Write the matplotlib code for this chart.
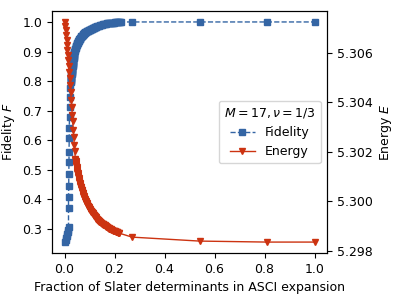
import matplotlib
matplotlib.use("Agg")
import matplotlib.pyplot as plt

# fraction of determinants / fidelity
fid_frac = [0.002, 0.004, 0.006, 0.008, 0.010, 0.012, 0.014, 0.016,
            0.016, 0.016, 0.017, 0.017, 0.018, 0.018, 0.019, 0.019, 0.020,
            0.021, 0.022, 0.023,
            0.024, 0.0245, 0.025, 0.0255, 0.026, 0.0265, 0.027, 0.0275,
            0.028, 0.0285, 0.029, 0.0295, 0.030, 0.0305, 0.031, 0.0315,
            0.032, 0.0325, 0.033, 0.0335, 0.034, 0.0345, 0.035, 0.0355,
            0.036, 0.0365, 0.037, 0.0375, 0.038, 0.0385, 0.039, 0.0395,
            0.040, 0.041, 0.042, 0.043, 0.044, 0.045, 0.046, 0.047, 0.048,
            0.049, 0.050, 0.051, 0.052, 0.053, 0.054, 0.055, 0.056, 0.057,
            0.058, 0.059, 0.060, 0.0615, 0.063, 0.0645, 0.066, 0.0675, 0.069,
            0.0705, 0.072, 0.0735, 0.075, 0.0765, 0.078, 0.0795, 0.081,
            0.0825, 0.084, 0.086, 0.088, 0.090, 0.092, 0.094, 0.096, 0.098,
            0.100, 0.102, 0.104, 0.106, 0.108, 0.110, 0.112, 0.114, 0.116,
            0.118, 0.120, 0.122, 0.124,
            0.1275, 0.131, 0.135, 0.139, 0.143, 0.147, 0.151, 0.155, 0.159,
            0.163, 0.167, 0.171, 0.175, 0.179, 0.183, 0.187, 0.191, 0.195,
            0.199, 0.203, 0.207, 0.211, 0.215, 0.219, 0.223, 0.227,
            0.27, 0.54, 0.81, 1.0]
fidelity = [0.256, 0.263, 0.270, 0.276, 0.283, 0.290, 0.296, 0.306,
            0.370, 0.407, 0.444, 0.485, 0.525, 0.562, 0.609, 0.643, 0.680,
            0.714, 0.747, 0.778,
            0.798, 0.801, 0.805, 0.808, 0.811, 0.814, 0.818, 0.821,
            0.825, 0.828, 0.831, 0.834, 0.838, 0.841, 0.845, 0.848,
            0.852, 0.855, 0.858, 0.861, 0.865, 0.868, 0.872, 0.875,
            0.879, 0.882, 0.885, 0.888, 0.892, 0.894, 0.897, 0.900,
            0.902, 0.905, 0.907, 0.910, 0.912, 0.915, 0.918, 0.920, 0.923,
            0.924, 0.926, 0.928, 0.929, 0.931, 0.933, 0.934, 0.936, 0.938,
            0.940, 0.941, 0.943, 0.944, 0.946, 0.948, 0.949, 0.951, 0.953,
            0.954, 0.956, 0.957, 0.959, 0.960, 0.961, 0.962, 0.964,
            0.965, 0.966, 0.967, 0.968, 0.969, 0.970, 0.971, 0.972, 0.9725,
            0.973, 0.974, 0.975, 0.9755, 0.976, 0.977, 0.978, 0.979, 0.980,
            0.981, 0.982, 0.9825, 0.983,
            0.9845, 0.986, 0.987, 0.988, 0.989, 0.990, 0.991, 0.992, 0.9925,
            0.993, 0.994, 0.995, 0.9955, 0.996, 0.9965, 0.997, 0.9975, 0.998,
            0.998, 0.9985, 0.999, 0.999, 0.9992, 0.9995, 0.9998, 1.0,
            1.0, 1.0, 1.0, 1.0]

# fraction of determinants / energy
en_frac = [0.000, 0.002, 0.004, 0.006, 0.008, 0.010, 0.011, 0.013, 0.014,
           0.016, 0.018, 0.020, 0.023, 0.025, 0.027, 0.029, 0.031, 0.033,
           0.035, 0.037, 0.039, 0.041,
           0.043, 0.0435, 0.044, 0.0445, 0.045, 0.0458, 0.0465, 0.0472,
           0.048, 0.0485, 0.049, 0.0495, 0.050, 0.0508, 0.0515, 0.0522,
           0.053, 0.0538, 0.0545, 0.0552, 0.056, 0.0568, 0.0575, 0.0582,
           0.059, 0.0598, 0.0605, 0.0612, 0.062, 0.0628, 0.0635, 0.0642,
           0.065, 0.066, 0.067, 0.068, 0.069, 0.070, 0.071, 0.072, 0.073,
           0.0738, 0.0745, 0.0752, 0.076, 0.077, 0.078, 0.079, 0.080,
           0.0815, 0.083, 0.0845, 0.086, 0.087, 0.088, 0.089, 0.090,
           0.0915, 0.093, 0.0945, 0.096, 0.097, 0.098, 0.099, 0.100,
           0.1015, 0.103, 0.1045, 0.106, 0.1075, 0.109, 0.1105, 0.112,
           0.1135, 0.115, 0.1165, 0.118, 0.1195, 0.121, 0.1225, 0.124,
           0.1252, 0.1265, 0.1278, 0.129, 0.1305, 0.132, 0.1335, 0.135,
           0.1365, 0.138, 0.1395, 0.141, 0.1425, 0.144, 0.1455, 0.147,
           0.1488, 0.1505, 0.1522, 0.154, 0.1558, 0.1575, 0.1592, 0.161,
           0.163, 0.165, 0.167, 0.169, 0.1705, 0.172, 0.1735, 0.175,
           0.1765, 0.178, 0.1795, 0.181, 0.184, 0.187, 0.190, 0.193,
           0.196, 0.199, 0.2015, 0.204, 0.2065, 0.209, 0.2115, 0.214,
           0.2165, 0.219,
           0.27, 0.54, 0.81, 1.0]
energy = [5.30725, 5.30709, 5.30692, 5.30672, 5.30652, 5.30632, 5.30612,
          5.30592, 5.30572, 5.30548, 5.30524, 5.30499, 5.30471, 5.30443,
          5.30411, 5.30383, 5.30351, 5.30323, 5.30290, 5.30262, 5.30230,
          5.30202,
          5.30170, 5.30166, 5.30162, 5.30158, 5.30154, 5.30150, 5.30146,
          5.30142, 5.30138, 5.30134, 5.30130, 5.30126, 5.30122, 5.30119,
          5.30116, 5.30113, 5.30110, 5.30105, 5.30101, 5.30097, 5.30093,
          5.30090, 5.30087, 5.30084, 5.30081, 5.30078, 5.30075, 5.30072,
          5.30069, 5.30066, 5.30063, 5.30060, 5.30057, 5.30054, 5.30051,
          5.30048, 5.30045, 5.30042, 5.30039, 5.30036, 5.30033, 5.30030,
          5.30027, 5.30024, 5.30021, 5.30018, 5.30015, 5.30012, 5.30009,
          5.30006, 5.30003, 5.30000, 5.29997, 5.29995, 5.29993, 5.29991,
          5.29989, 5.29986, 5.29983, 5.29980, 5.29977, 5.29975, 5.29973,
          5.29971, 5.29969, 5.29967, 5.29965, 5.29963, 5.29961, 5.29959,
          5.29957, 5.29955, 5.29953, 5.29951, 5.29949, 5.29947, 5.29945,
          5.29943, 5.29941, 5.29939, 5.29937, 5.29935, 5.29933, 5.29931,
          5.29929, 5.29927, 5.29926, 5.29924, 5.29923, 5.29921, 5.29920,
          5.29918, 5.29917, 5.29916, 5.29915, 5.29914, 5.29913, 5.29911,
          5.29910, 5.29908, 5.29907, 5.29906, 5.29905, 5.29904, 5.29903,
          5.29901, 5.29900, 5.29898, 5.29897, 5.29895, 5.29894, 5.29893,
          5.29892, 5.29891, 5.29890, 5.29889, 5.29888, 5.29887, 5.29886,
          5.29884, 5.29882, 5.29881, 5.29880, 5.29879, 5.29878, 5.29877,
          5.29876, 5.29875, 5.29874, 5.29873, 5.29872,
          5.29856, 5.29840, 5.29836, 5.29836]

blue = "#3465a4"
red = "#cc3311"
fs = 9

fig = plt.figure(figsize=(3.94, 2.96), dpi=100)
ax = fig.add_axes([0.132, 0.145, 0.698, 0.818])
ax2 = ax.twinx()

l1, = ax.plot(fid_frac, fidelity, "--s", color=blue, markersize=4.5,
              linewidth=1, label="Fidelity")
l2, = ax2.plot(en_frac, energy, "-v", color=red, markersize=4.5,
               linewidth=1, label="Energy")

ax.set_xticks([0.0, 0.2, 0.4, 0.6, 0.8, 1.0])
ax.set_yticks([0.3, 0.4, 0.5, 0.6, 0.7, 0.8, 0.9, 1.0])
ax2.set_yticks([5.298, 5.300, 5.302, 5.304, 5.306])
ax2.set_yticklabels(["5.298", "5.300", "5.302", "5.304", "5.306"])
ax.tick_params(labelsize=fs)
ax2.tick_params(labelsize=fs)

ax.set_xlabel("Fraction of Slater determinants in ASCI expansion", fontsize=fs)
ax.set_ylabel("Fidelity $F$", fontsize=fs)
ax2.set_ylabel("Energy $E$", fontsize=fs)

leg = ax2.legend([l1, l2], ["Fidelity", "Energy"], loc="center right",
                 title=r"$M=17, \nu=1/3$", fontsize=fs, title_fontsize=fs)

fig.savefig("out.png", dpi=100)
